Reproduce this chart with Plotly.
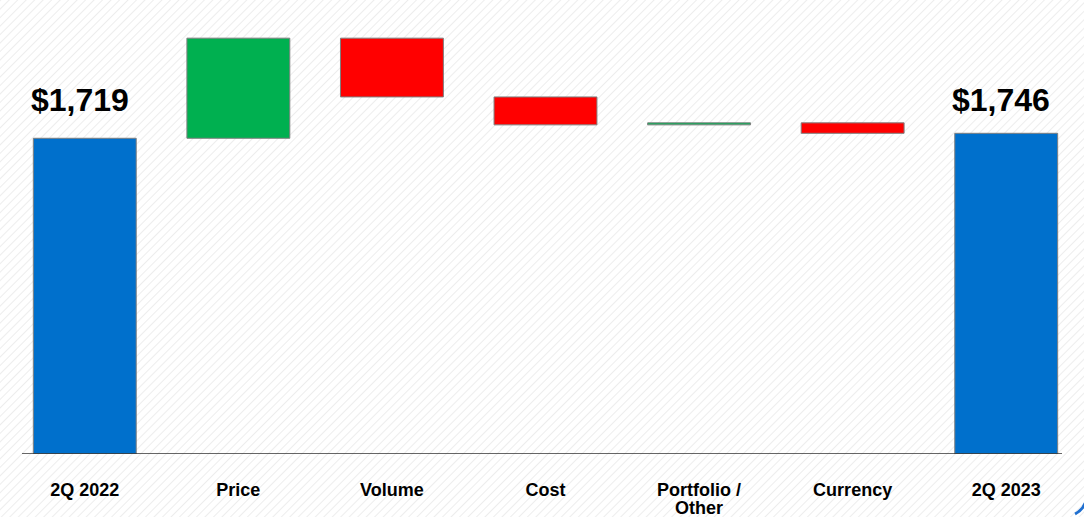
import base64
import plotly.graph_objects as go

categories = ["2Q 2022", "Price", "Volume", "Cost", "Portfolio / Other", "Currency", "2Q 2023"]
tick_line1 = ["2Q 2022", "Price", "Volume", "Cost", "Portfolio /", "Currency", "2Q 2023"]
tick_line2 = ["", "", "", "", "Other", "", ""]
values = [1719, 545, -320, -152, 11, -57, 1746]
measures = ["absolute", "relative", "relative", "relative", "relative", "relative", "total"]
total_labels = ["$1,719", "", "", "", "", "", "$1,746"]

W, H = 1084, 517

# faint diagonal hatching background (slide texture)
svg = f'''<svg xmlns="http://www.w3.org/2000/svg" width="{W}" height="{H}">
<defs><pattern id="p" width="6" height="6" patternUnits="userSpaceOnUse" patternTransform="rotate(45)">
<line x1="0" y1="0" x2="0" y2="6" stroke="#ededed" stroke-width="2"/></pattern></defs>
<rect width="{W}" height="{H}" fill="#ffffff"/>
<rect width="{W}" height="{H}" fill="url(#p)"/>
</svg>'''
bg_uri = "data:image/svg+xml;base64," + base64.b64encode(svg.encode()).decode()

label_font = dict(family="Liberation Sans, Arial", size=18, color="#000000", weight="bold")

fig = go.Figure()
fig.add_trace(go.Waterfall(
    x=categories,
    y=values,
    measure=measures,
    increasing=dict(marker=dict(color="#00B050", line=dict(color="#7f7f7f", width=1))),
    decreasing=dict(marker=dict(color="#FF0000", line=dict(color="#7f7f7f", width=1))),
    totals=dict(marker=dict(color="#0070CC", line=dict(color="#7f7f7f", width=1))),
    connector=dict(visible=False),
    hoverinfo="skip",
))

for c, lab in zip(categories, total_labels):
    if lab:
        fig.add_annotation(x=c, xref="x", yref="paper", y=(454 - 99.5) / 444, text=lab,
                           showarrow=False, xshift=-5, yanchor="middle",
                           font=dict(family="Liberation Sans, Arial", size=32, color="#000000", weight="bold"))

# second line of wrapped category label
for c, t2 in zip(categories, tick_line2):
    if t2:
        fig.add_annotation(x=c, xref="x", yref="paper", y=-(508 - 454) / 444, text=t2,
                           showarrow=False, yanchor="middle", borderpad=0, font=label_font)

# baseline axis line
fig.add_shape(type="line", xref="paper", yref="y", x0=(22 - 8) / 1075, x1=(1062 - 8) / 1075,
              y0=0, y1=0, line=dict(color="#333333", width=1.5))

# decorative corner arc
fig.add_shape(type="path", xref="paper", yref="paper",
              path="M 0.9926,-0.1351 Q 0.9995,-0.127 1.0025,-0.108",
              line=dict(color="#1f6fd0", width=3))

fig.add_layout_image(dict(source=bg_uri, xref="paper", yref="paper", x=-8 / 1075, y=1 + 10 / 444,
                          sizex=W / 1075, sizey=H / 444, sizing="stretch", layer="below",
                          xanchor="left", yanchor="top"))

fig.update_layout(
    width=W, height=H,
    margin=dict(l=8, r=1, t=10, b=63, autoexpand=False),
    paper_bgcolor="#ffffff",
    plot_bgcolor="rgba(0,0,0,0)",
    waterfallgap=0.33,
    showlegend=False,
    xaxis=dict(showgrid=False, zeroline=False, showline=False, ticks="",
               automargin=False,
               tickmode="array", tickvals=categories, ticktext=tick_line1,
               ticklabelstandoff=23,
               tickfont=label_font,
               range=[-0.5, 6.5]),
    yaxis=dict(range=[0, 2417.4], showgrid=False, zeroline=False, showline=False,
               automargin=False,
               showticklabels=False, ticks=""),
)

fig.write_html("out.html", config={"displayModeBar": False},
               post_script="document.body.style.margin='0';document.body.style.overflow='hidden';")
